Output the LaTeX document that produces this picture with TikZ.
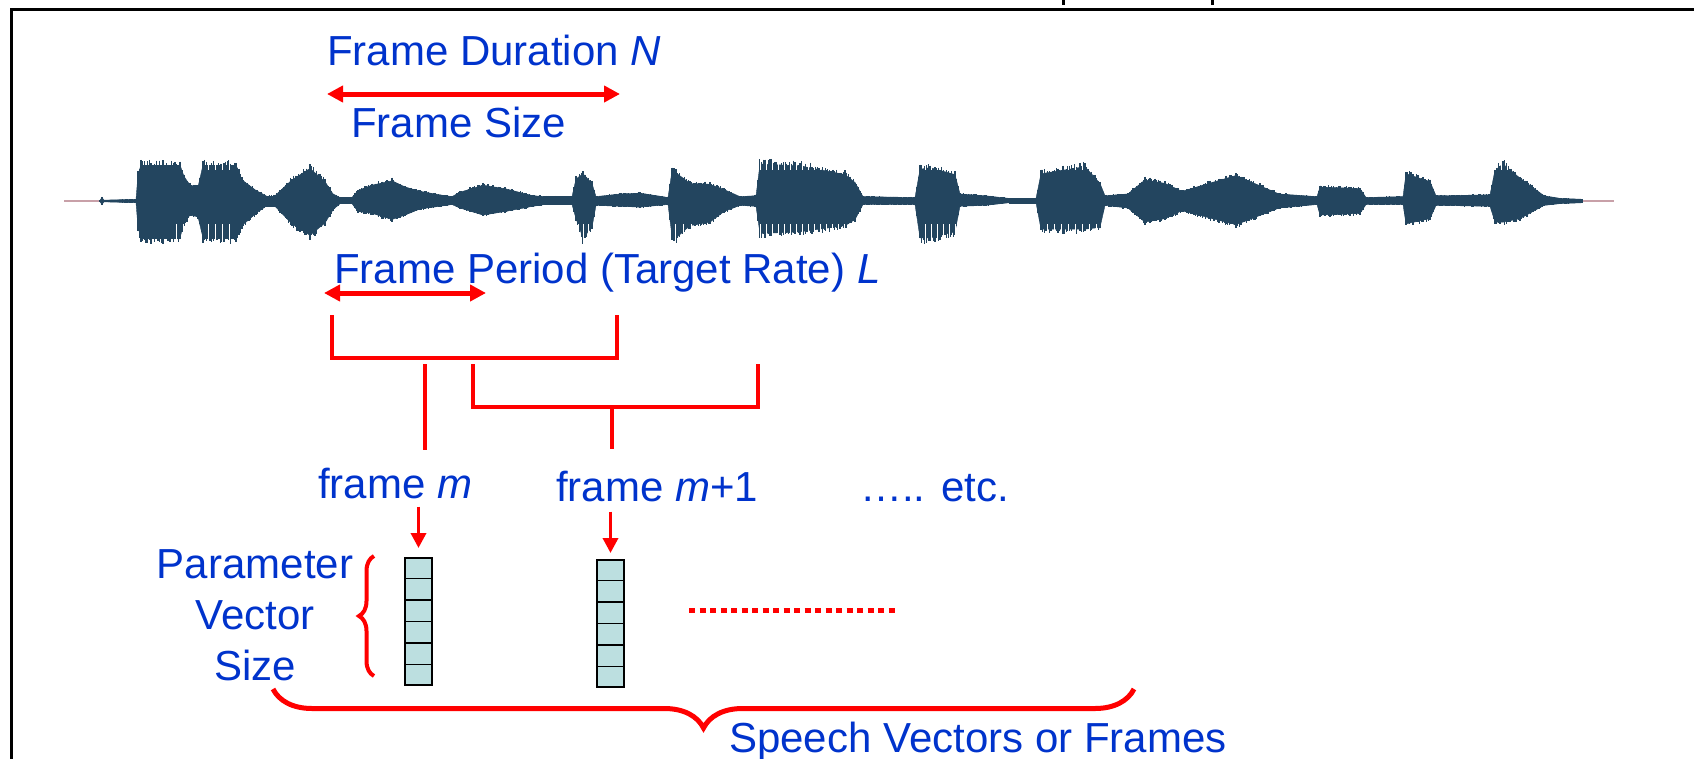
\documentclass[tikz,border=0pt]{standalone}
\usepackage{fontspec}
\setmainfont{Liberation Sans}
\usetikzlibrary{arrows.meta, calc, decorations.pathreplacing, positioning}

\definecolor{lblblue}{HTML}{0033CC}
\definecolor{wavecol}{HTML}{23455F}
\definecolor{cellcol}{HTML}{BCDFE0}
\definecolor{tailcol}{HTML}{C8A0A8}

\tikzset{
  lbl/.style={text=lblblue, font=\fontsize{42}{51}\selectfont, inner sep=0pt},
  redline/.style={draw=red, line width=4.5pt},
  dblarrow/.style={draw=red, line width=5pt, {Triangle[length=16pt,width=16pt]}-{Triangle[length=16pt,width=16pt]}},
  redarrow/.style={draw=red, line width=3.5pt, -{Triangle[length=15pt,width=15pt]}},
  vecbox/.style={draw=black, line width=2pt, fill=cellcol, minimum width=27pt, minimum height=127pt, inner sep=0pt},
  wave/.style={fill=wavecol, draw=wavecol, line width=0.4pt},
  wavebar/.style={draw=wavecol, line width=1.4pt},
  streak/.style={draw=white, line width=0.9pt},
}

\begin{document}
\begin{tikzpicture}[x=1pt, y=-1pt]
    \useasboundingbox (0,0) rectangle (1694,758);
    % Slide frame and cut-off title
    \draw[line width=3pt] (11,770) -- (11,9) -- (1700,9);
    \draw[line width=3pt] (1063,-2) -- (1063,5);
    \draw[line width=3pt] (1212,-2) -- (1212,5);

    % Speech waveform: solid core plus random bars
    \pgfmathsetseed{7}
    \draw[tailcol, line width=1.5pt] (64,201) -- (1614,201);
    \foreach \x/\u/\d [remember=\x as \px (initially 100), remember=\u as \pu (initially 1), remember=\d as \pd (initially 1)] in {
        102/4/4, 104/1/1, 136/2/2, 138/30/30, 141/41/42, 180/41/42, 184/28/25, 190/18/16, 198/16/18,
        203/41/42, 236/41/42, 242/24/28, 256/12/14, 266/6/6, 275/6/6, 292/24/26, 310/37/39, 325/22/25,
        333/8/10, 340/4/3, 352/4/3, 358/12/12, 372/18/14, 392/23/21, 405/16/16, 420/11/9, 440/7/6,
        452/5/4, 460/10/8, 483/18/16, 505/14/12, 533/6/6, 545/5/4, 572/5/4, 576/25/20, 583/31/42,
        592/20/30, 596/5/5, 620/8/6, 640/9/7, 668/4/4, 672/34/40, 676/32/42, 690/20/28, 710/19/24,
        724/13/12, 740/5/5, 756/6/6, 760/42/37, 800/40/35, 845/30/28, 855/21/21, 863/5/4, 915/4/4,
        920/36/42, 930/38/42, 955/30/35, 960/8/6, 985/6/5, 1009/3/2, 1036/3/2, 1041/31/32, 1085/39/32,
        1100/20/30, 1105/6/5, 1128/8/8, 1145/24/24, 1165/20/20, 1182/11/11, 1236/29/27, 1279/8/8,
        1317/5/4, 1320/16/16, 1360/14/14, 1366/4/4, 1403/5/4, 1406/31/26, 1430/22/20, 1436/6/5,
        1490/7/6, 1495/35/24, 1503/42/24, 1520/26/20, 1544/6/5, 1560/3/3, 1582/2/2} {
        \fill[wave] (\px,{201-0.88*\pu}) -- (\x,{201-0.88*\u}) -- (\x,{201+0.88*\d}) -- (\px,{201+0.88*\pd}) -- cycle;
        \pgfmathtruncatemacro\nbar{max(1,round((\x-\px)/1.7))}
        \foreach \i in {0,...,\nbar} {
          \pgfmathsetmacro\xx{\px+\i*(\x-\px)/\nbar}
          \pgfmathsetmacro\uu{(\pu+(\u-\pu)*\i/\nbar)*(0.86+0.16*rnd)}
          \pgfmathsetmacro\dd{(\pd+(\d-\pd)*\i/\nbar)*(0.86+0.16*rnd)}
          \draw[wavebar] (\xx,{201-\uu}) -- (\xx,{201+\dd});
        }
    }
    % glottal streaks
    \foreach \a/\b/\s/\t in {176/200/7/0, 208/232/7/1, 578/594/5/0, 675/735/8/0, 760/845/6/1,
        925/955/6/1, 1047/1100/7/1, 1130/1180/8/0, 1190/1275/6/0, 1495/1540/6/1}
      \foreach \x in {\a,\the\numexpr\a+\s\relax,...,\b} {
        \draw[streak] (\x,224) -- (\x,247);
        \ifnum\t=1 \draw[streak] (\x,154) -- (\x,170); \fi
      };

    % Frame duration
    \node[lbl, anchor=base west] (dur) at (327,65) {Frame Duration \textit{N}};
    \coordinate (durL) at (327,94);
    \coordinate (durR) at (620,94);
    \draw[dblarrow] (durL) -- (durR);
    \node[lbl, anchor=base west] (fsize) at (351,137) {Frame Size};

    % Frame period
    \node[lbl, anchor=base west] (period) at (334,283) {Frame Period (Target Rate) \textit{L}};
    \coordinate (perL) at (324,293);
    \coordinate (perR) at (486,293);
    \draw[dblarrow] (perL) -- (perR);

    % Overlapping frames
    \draw[redline] (332,315) -- (332,358) -- (617,358) -- (617,315);
    \draw[redline] (425,364) -- (425,450);
    \draw[redline] (473,364) -- (473,407) -- (758,407) -- (758,364);
    \draw[redline] (612,407) -- (612,449);

    \node[lbl, anchor=base west] (fm) at (318,498) {frame \textit{m}};
    \node[lbl, anchor=base west] (fmnext) at (556,501) {frame \textit{m}+1};
    \node[lbl, anchor=base west] (etc) at (860,501) {….. etc.};

    % Parameter vectors
    \node[vecbox, anchor=north] (vecA) at (418.5,557) {};
    \node[vecbox, anchor=north] (vecB) at (610.5,559) {};
    \foreach \v in {vecA, vecB}
      \foreach \k in {1,...,5}
        \draw[line width=1.5pt] ($(\v.north west)!\k/6!(\v.south west)$) -- ($(\v.north east)!\k/6!(\v.south east)$);
    \draw[redarrow, shorten <=8pt, shorten >=9pt] (vecA.north |- fm.south) -- (vecA.north);
    \draw[redarrow, shorten <=10pt, shorten >=6pt] (vecB.north |- fmnext.south) -- (vecB.north);
    \draw[red, line width=5pt, dash pattern=on 6pt off 4.5pt] (689,610) -- (897,610);

    \node[lbl, align=center, anchor=base] (pvs) at (255,680) {Parameter\\Vector\\Size};
    \draw[redline, line width=4pt, decorate, decoration={brace, amplitude=15pt}] (374,676) -- (374,556);

    % All frames
    \draw[redline, line width=5pt, decorate, decoration={brace, mirror, amplitude=39pt}] (273,689) -- (1134,689);
    \node[lbl, anchor=base west] (svf) at (729,752) {Speech Vectors or Frames};
\end{tikzpicture}
\end{document}
